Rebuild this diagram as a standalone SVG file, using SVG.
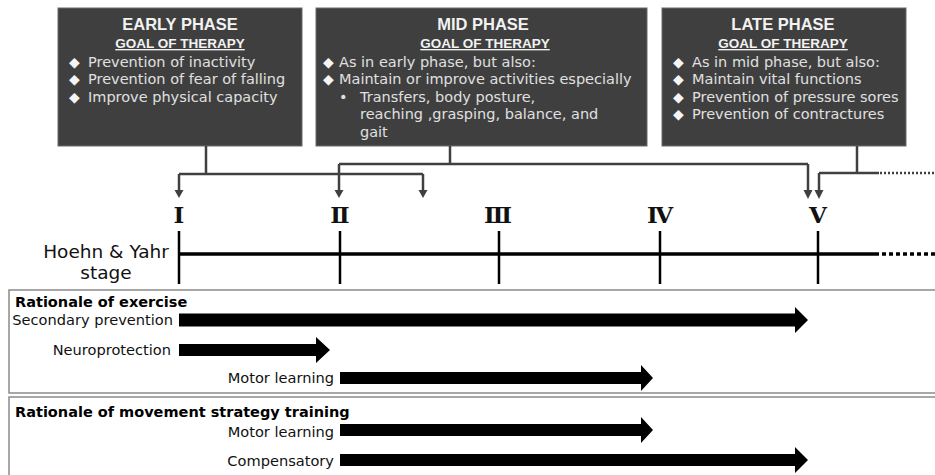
<svg xmlns="http://www.w3.org/2000/svg" width="935" height="475" viewBox="0 0 935 475">
<defs>
<style>
.box{fill:#3f3f3f;stroke:#6a6a6a;stroke-width:1}
.h{font-family:"Liberation Sans",Arial,sans-serif;font-weight:bold;fill:#f2f2f2;text-anchor:middle}
.h1{font-size:16.5px}
.h2{font-size:13.5px;text-decoration:underline}
.b{font-family:"DejaVu Sans",sans-serif;font-size:14.5px;fill:#e0e0e0}
.d{font-family:"DejaVu Sans",sans-serif;font-size:14px;fill:#f5f5f5}
.con{fill:none;stroke:#404040;stroke-width:2.5}
.ah{fill:#404040}
.rn{font-family:"DejaVu Serif",serif;font-weight:bold;font-size:23px;fill:#111;text-anchor:middle}
.tick{stroke:#000;stroke-width:2.5}
.lbl{font-family:"DejaVu Sans",sans-serif;font-size:14.6px;fill:#111;text-anchor:end}
.ttl{font-family:"DejaVu Sans",sans-serif;font-weight:bold;font-size:14.5px;fill:#000}
.frame{fill:#fff;stroke:#8a8a8a;stroke-width:1.5}
.arr{fill:#000}
</style>
</defs>
<rect width="935" height="475" fill="#fff"/>

<g id="early-phase">
<rect class="box" x="58" y="8" width="244" height="138"/>
<text class="h h1" x="180" y="30">EARLY PHASE</text>
<text class="h h2" x="180" y="48">GOAL OF THERAPY</text>
<text class="d" x="69" y="67">◆</text><text class="b" x="88" y="67">Prevention of inactivity</text>
<text class="d" x="69" y="84">◆</text><text class="b" x="88" y="84">Prevention of fear of falling</text>
<text class="d" x="69" y="102">◆</text><text class="b" x="88" y="102">Improve physical capacity</text>
</g>

<g id="mid-phase">
<rect class="box" x="316" y="8" width="331" height="138"/>
<text class="h h1" x="483" y="30">MID PHASE</text>
<text class="h h2" x="485" y="48">GOAL OF THERAPY</text>
<text class="d" x="323" y="67">◆</text><text class="b" x="339" y="67">As in early phase, but also:</text>
<text class="d" x="323" y="84">◆</text><text class="b" x="339" y="84">Maintain or improve activities especially</text>
<text class="b" x="339" y="102">•</text><text class="b" x="360" y="102">Transfers, body posture,</text>
<text class="b" x="360" y="119">reaching ,grasping, balance, and</text>
<text class="b" x="360" y="137">gait</text>
</g>

<g id="late-phase">
<rect class="box" x="662" y="8" width="244" height="138"/>
<text class="h h1" x="783" y="30">LATE PHASE</text>
<text class="h h2" x="783" y="48">GOAL OF THERAPY</text>
<text class="d" x="673" y="67">◆</text><text class="b" x="692" y="67">As in mid phase, but also:</text>
<text class="d" x="673" y="84">◆</text><text class="b" x="692" y="84">Maintain vital functions</text>
<text class="d" x="673" y="102">◆</text><text class="b" x="692" y="102">Prevention of pressure sores</text>
<text class="d" x="673" y="119">◆</text><text class="b" x="692" y="119">Prevention of contractures</text>
</g>

<g id="connectors">
<path class="con" d="M206,146V174M179,174H423M179,174V191M423,174V191"/>
<path class="con" d="M450,146V164M339,164H808M339,164V191M808,164V191"/>
<path class="con" d="M857,146V173M819,173H879M819,173V191"/>
<path class="con" d="M880,173H935" stroke-dasharray="2,2"/>
<polygon class="ah" points="174.5,190 183.5,190 179,198"/>
<polygon class="ah" points="418.5,190 427.5,190 423,198"/>
<polygon class="ah" points="334.5,190 343.5,190 339,198"/>
<polygon class="ah" points="803.5,190 812.5,190 808,199"/>
<polygon class="ah" points="814.5,190 823.5,190 819,199"/>
</g>

<g id="hoehn-yahr">
<text class="rn" x="179" y="223">Ⅰ</text>
<text class="rn" x="340" y="223">Ⅱ</text>
<text class="rn" x="498" y="223">Ⅲ</text>
<text class="rn" x="660" y="223">Ⅳ</text>
<text class="rn" x="818" y="223">Ⅴ</text>
<text x="106" y="258" font-family="DejaVu Sans,sans-serif" font-size="18.5" fill="#111" text-anchor="middle">Hoehn &amp; Yahr</text>
<text x="106" y="279" font-family="DejaVu Sans,sans-serif" font-size="18.5" fill="#111" text-anchor="middle">stage</text>
<path d="M179,254H879" stroke="#000" stroke-width="3.5"/>
<path d="M882,254H935" stroke="#000" stroke-width="3.5" stroke-dasharray="4,3"/>
<path class="tick" d="M179,231V284M340,231V284M499,231V284M660,231V284M818,231V284"/>
</g>

<g id="rationale-exercise">
<rect class="frame" x="9" y="290" width="940" height="103"/>
<text class="ttl" x="15" y="307">Rationale of exercise</text>
<text class="lbl" x="173" y="325">Secondary prevention</text>
<polygon class="arr" points="179,313.5 795,313.5 795,307 808,320 795,333 795,326.5 179,326.5"/>
<text class="lbl" x="171" y="355">Neuroprotection</text>
<polygon class="arr" points="179,344 316,344 316,337 330,350 316,363 316,356 179,356"/>
<text class="lbl" x="334" y="383">Motor learning</text>
<polygon class="arr" points="340,372 641,372 641,365 653,378 641,391 641,384 340,384"/>
</g>

<g id="rationale-movement">
<rect class="frame" x="9" y="397" width="940" height="90"/>
<text class="ttl" x="15" y="417">Rationale of movement strategy training</text>
<text class="lbl" x="334" y="437">Motor learning</text>
<polygon class="arr" points="340,424 641,424 641,417 653,430 641,443 641,436 340,436"/>
<text class="lbl" x="334" y="466">Compensatory</text>
<polygon class="arr" points="340,454 795,454 795,447 808,460 795,473 795,466 340,466"/>
</g>
</svg>
